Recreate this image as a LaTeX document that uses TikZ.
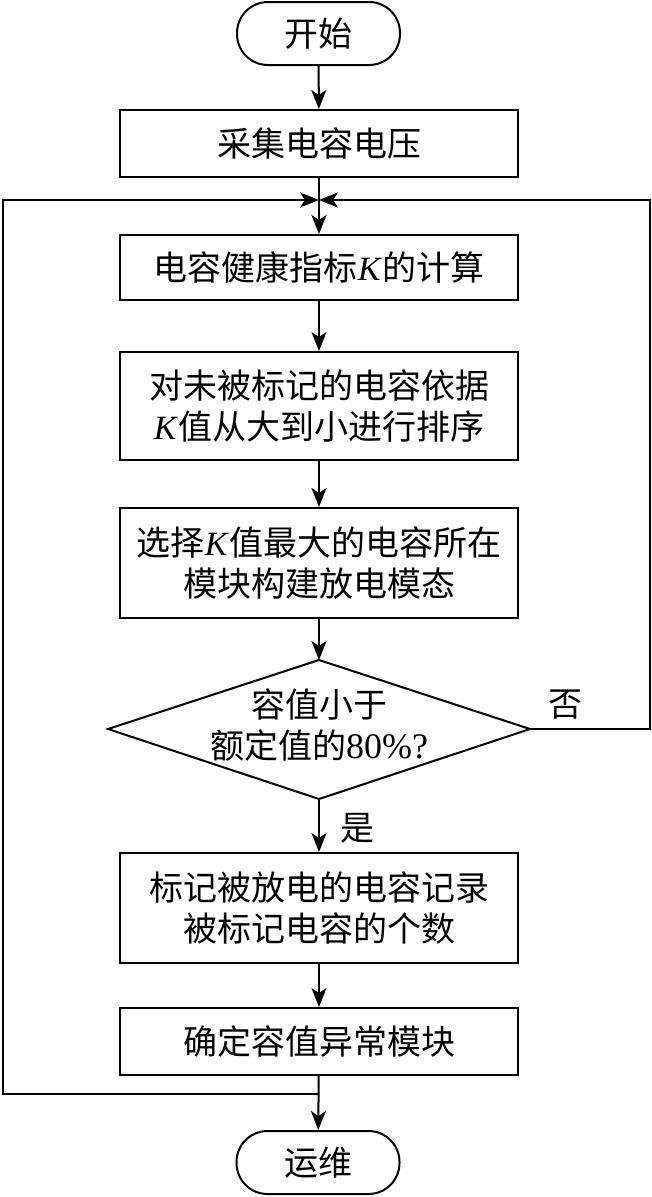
\documentclass[tikz,border=0pt]{standalone}
\usepackage{fontspec}
\setmainfont{Liberation Serif}
\newfontfamily\cjk{Noto Sans CJK SC}
\usetikzlibrary{arrows.meta}
\begin{document}
\begin{tikzpicture}[x=1pt,y=-1pt,line width=2pt,
  font=\fontsize{34}{41}\selectfont,
  arr/.style={-{Stealth[length=19pt,width=15pt,inset=5pt]}},
  term/.style={draw,rounded corners=31pt,minimum width=163pt,minimum height=63pt,inner sep=0pt},
  procbox/.style={draw,minimum width=398pt,inner sep=0pt,align=center},
  lbl/.style={inner sep=0pt}]
\useasboundingbox (0,0) rectangle (652,1197);
\node[term] (start) at (318.5,33.5) {\cjk 开始};
\node[procbox,minimum height=67pt] (b1) at (319,143.5) {\cjk 采集电容电压};
\node[procbox,minimum height=65pt] (b2) at (319,267.5) {{\cjk 电容健康指标}\textit{K}{\cjk 的计算}};
\node[procbox,minimum height=108pt] (b3) at (319,406) {{\cjk 对未被标记的电容依据}\\\textit{K}{\cjk 值从大到小进行排序}};
\node[procbox,minimum height=110pt] (b4) at (319,563) {{\cjk 选择}\textit{K}{\cjk 值最大的电容所在}\\{\cjk 模块构建放电模态}};
\coordinate (dT) at (319,660);
\coordinate (dR) at (530,729);
\coordinate (dB) at (319,799);
\coordinate (dL) at (108,729);
\draw (dT) -- (dR) -- (dB) -- (dL) -- cycle;
\node[lbl,align=center] (dtext) at (319,725) {{\cjk 容值小于}\\{\cjk 额定值的}{\fontsize{36}{41}\selectfont 80\%?}};
\node[procbox,minimum height=110pt] (b5) at (319,908) {{\cjk 标记被放电的电容记录}\\{\cjk 被标记电容的个数}};
\node[procbox,minimum height=67pt] (b6) at (319,1041.5) {\cjk 确定容值异常模块};
\node[term] (stop) at (318,1162.5) {\cjk 运维};
\node[lbl] (no) at (565,705) {\cjk 否};
\node[lbl] (yes) at (357,828) {\cjk 是};
\coordinate (j) at (319,200);
\coordinate (j2) at (319,1094);
\coordinate (rc1) at (650,729);
\coordinate (rc2) at (650,200);
\coordinate (lc1) at (3,1094);
\coordinate (lc2) at (3,200);
\draw[arr] (start) -- (b1);
\draw[arr] (b1) -- (b2);
\draw[arr] (b2) -- (b3);
\draw[arr] (b3) -- (b4);
\draw[arr] (b4) -- (dT);
\draw[arr] (dB) -- (b5);
\draw[arr] (b5) -- (b6);
\draw[arr] (b6) -- (stop);
\draw[arr] (dR) -- (rc1) -- (rc2) -- (j);
\draw[arr] (j2) -- (lc1) -- (lc2) -- (j);
\end{tikzpicture}
\end{document}
